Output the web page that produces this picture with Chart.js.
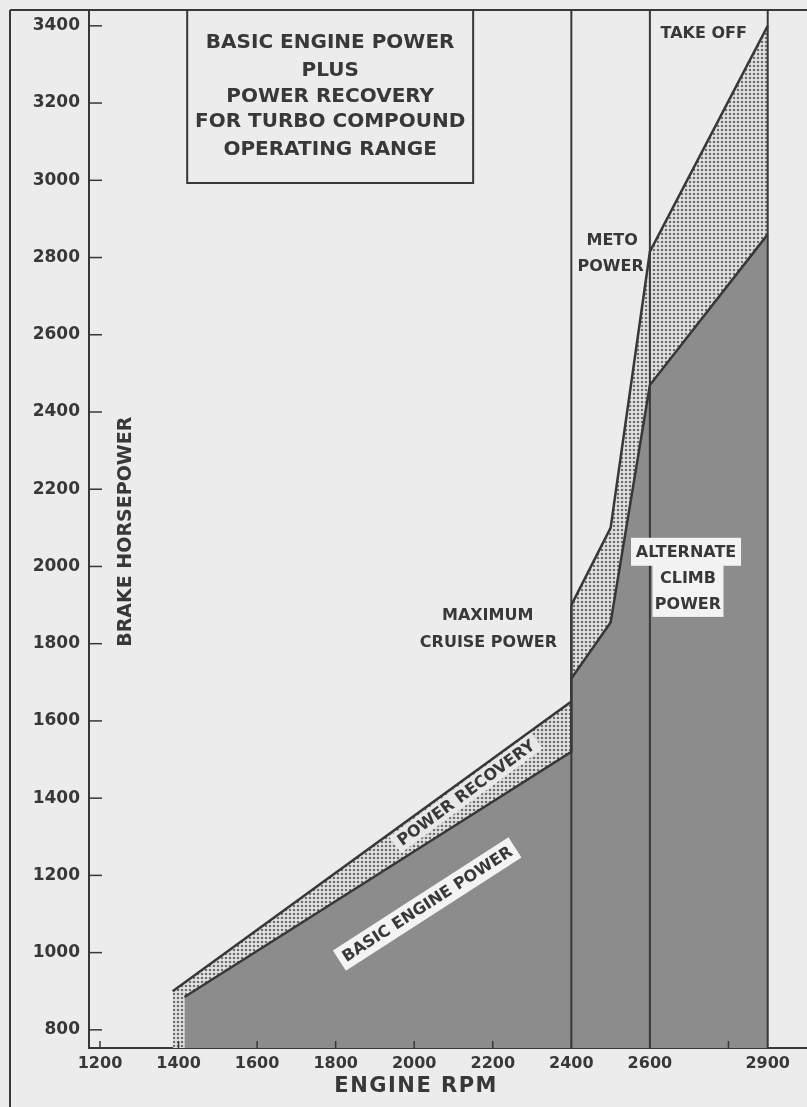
<!DOCTYPE html>
<html>
<head>
<meta charset="utf-8">
<script src="https://cdn.jsdelivr.net/npm/chart.js@4.4.1/dist/chart.umd.min.js"></script>
<style>
    html, body { margin: 0; padding: 0; background: #ececec; }
    #wrap { width: 807px; height: 1107px; position: relative; }
</style>
</head>
<body>
<div id="wrap"><canvas id="powerChart"></canvas></div>
<script>
// Values (rpm / brake horsepower)
const totalRpm = [1385, 2400, 2400, 2500, 2600, 2900];
const totalHp  = [900, 1650, 1900, 2100, 2815, 3400];
const basicRpm = [1415, 2400, 2400, 2500, 2600, 2900];
const basicHp  = [885, 1520, 1710, 1855, 2470, 2860];

// Operating range boundaries
const rangeLines = [2400, 2600, 2900];

// Axis ticks
const yTicks  = [800, 1000, 1200, 1400, 1600, 1800, 2000, 2200, 2400, 2600, 2800, 3000, 3200, 3400];
const xLabels = [1200, 1400, 1600, 1800, 2000, 2200, 2400, 2600, 2900];
const xMarks  = [1200, 1400, 1600, 1800, 2000, 2200, 2400, 2600, 2800];

const titleLines = ['BASIC ENGINE POWER', 'PLUS', 'POWER RECOVERY', 'FOR TURBO COMPOUND', 'OPERATING RANGE'];

const ink = '#383838';
const font = size => 'bold ' + size + 'px "DejaVu Sans"';

// Text notes placed in data coordinates
const notes = [
    { text: 'TAKE OFF', x: 2737, y: 3382, size: 16 },
    { text: 'METO', x: 2504, y: 2846, size: 16 },
    { text: 'POWER', x: 2500, y: 2778, size: 16 },
    { text: 'MAXIMUM', x: 2187, y: 1875, size: 16 },
    { text: 'CRUISE POWER', x: 2189, y: 1805, size: 16 },
    { text: 'ALTERNATE', x: 2692, y: 2038, size: 16, box: '#f3f3f3', w: 110, h: 28 },
    { text: 'CLIMB', x: 2697, y: 1970, size: 16, box: '#f3f3f3', w: 71, h: 26 },
    { text: 'POWER', x: 2697, y: 1903, size: 16, box: '#f3f3f3', w: 71, h: 26 },
    { text: 'POWER RECOVERY', x: 2132, y: 1414, size: 16, angle: -36.4, box: '#e8e8e8', h: 20 },
    { text: 'BASIC ENGINE POWER', x: 2033, y: 1126, size: 16, angle: -32.8, box: '#f3f3f3', h: 24 }
];

// Stipple pattern for the power recovery band
function makeDots() {
    let c = document.createElement('canvas');
    c.width = 4;
    c.height = 4;
    let g = c.getContext('2d');
    g.fillStyle = '#e4e4e4';
    g.fillRect(0, 0, 4, 4);
    g.fillStyle = '#6f6f6f';
    g.beginPath();
    g.arc(2, 2, 1.3, 0, Math.PI * 2);
    g.fill();
    return g.createPattern(c, 'repeat');
}

function drawNote(ctx, n, xs, ys) {
    ctx.save();
    ctx.translate(xs.getPixelForValue(n.x), ys.getPixelForValue(n.y));
    if (n.angle) ctx.rotate(n.angle * Math.PI / 180);
    ctx.font = font(n.size);
    ctx.textAlign = 'center';
    ctx.textBaseline = 'middle';
    if (n.box) {
        let w = n.w || ctx.measureText(n.text).width + 10;
        let h = n.h || n.size + 10;
        ctx.fillStyle = n.box;
        ctx.fillRect(-w / 2, -h / 2, w, h);
    }
    ctx.fillStyle = ink;
    ctx.fillText(n.text, 0, 1);
    ctx.restore();
}

function line(ctx, x1, y1, x2, y2) {
    ctx.beginPath();
    ctx.moveTo(x1, y1);
    ctx.lineTo(x2, y2);
    ctx.stroke();
}

const decorations = {
    id: 'decorations',
    afterDatasetsDraw(chart) {
        let ctx = chart.ctx;
        let a = chart.chartArea;
        let xs = chart.scales.x, ys = chart.scales.y;
        ctx.save();
        ctx.strokeStyle = ink;

        // range boundaries
        ctx.lineWidth = 2;
        rangeLines.forEach(v => {
            let px = xs.getPixelForValue(v);
            line(ctx, px, a.top, px, a.bottom);
        });

        // tick marks pointing into the plot
        ctx.lineWidth = 1.5;
        yTicks.forEach(v => {
            let py = ys.getPixelForValue(v);
            line(ctx, a.left, py, a.left + 13, py);
        });
        xMarks.forEach(v => {
            let px = xs.getPixelForValue(v);
            line(ctx, px, a.bottom, px, a.bottom - 7);
        });

        // outer frame
        ctx.lineWidth = 2;
        line(ctx, ys.left, a.top, chart.width, a.top);
        line(ctx, ys.left, a.top, ys.left, chart.height);

        // title box
        let bx1 = xs.getPixelForValue(1422), bx2 = xs.getPixelForValue(2150);
        let by2 = ys.getPixelForValue(2993);
        ctx.strokeRect(bx1, a.top, bx2 - bx1, by2 - a.top);
        ctx.fillStyle = ink;
        ctx.font = font(20);
        ctx.textAlign = 'center';
        ctx.textBaseline = 'middle';
        let titleY = [3356, 3283, 3216, 3151, 3079];
        titleLines.forEach((t, i) => {
            ctx.fillText(t, xs.getPixelForValue(1786), ys.getPixelForValue(titleY[i]));
        });

        notes.forEach(n => drawNote(ctx, n, xs, ys));

        // axis titles
        ctx.fillStyle = ink;
        ctx.font = font(21);
        ctx.letterSpacing = '1.5px';
        ctx.fillText('ENGINE RPM', xs.getPixelForValue(2005), 1087);
        ctx.letterSpacing = '0px';
        ctx.save();
        ctx.translate(xs.getPixelForValue(1266), ys.getPixelForValue(2090));
        ctx.rotate(-Math.PI / 2);
        ctx.font = font(19);
        ctx.fillText('BRAKE HORSEPOWER', 0, 0);
        ctx.restore();

        ctx.restore();
    }
};

document.addEventListener('DOMContentLoaded', function() {
    let toPoints = (xs, ys) => xs.map((v, i) => ({ x: v, y: ys[i] }));

    new Chart(document.getElementById('powerChart').getContext('2d'), {
        type: 'line',
        data: {
            datasets: [{
                label: 'Basic engine power',
                data: toPoints(basicRpm, basicHp),
                borderColor: ink,
                borderWidth: 2.5,
                backgroundColor: '#8c8c8c',
                fill: 'start',
                pointRadius: 0,
                tension: 0
            }, {
                label: 'Power recovery',
                data: toPoints(totalRpm, totalHp),
                borderColor: ink,
                borderWidth: 2.5,
                backgroundColor: makeDots(),
                fill: 'start',
                pointRadius: 0,
                tension: 0
            }]
        },
        options: {
            responsive: true,
            maintainAspectRatio: false,
            animation: false,
            layout: { padding: { left: 10, top: 10, right: 0, bottom: 0 } },
            plugins: {
                legend: { display: false },
                tooltip: { enabled: false }
            },
            scales: {
                x: {
                    type: 'linear',
                    min: 1172,
                    max: 3000,
                    grid: { display: false, drawTicks: false },
                    border: { display: true, color: ink, width: 2 },
                    afterBuildTicks: s => { s.ticks = xLabels.map(v => ({ value: v })); },
                    afterFit: s => { s.height = 59; s.paddingLeft = 0; s.paddingRight = 0; },
                    ticks: {
                        autoSkip: false,
                        maxRotation: 0,
                        padding: 6,
                        color: ink,
                        callback: v => String(v),
                        font: { family: 'DejaVu Sans', weight: 'bold', size: 16 }
                    }
                },
                y: {
                    min: 753,
                    max: 3441,
                    grid: { display: false, drawTicks: false },
                    border: { display: true, color: ink, width: 2 },
                    afterBuildTicks: s => { s.ticks = yTicks.map(v => ({ value: v })); },
                    afterFit: s => { s.width = 79; s.paddingTop = 0; s.paddingBottom = 0; },
                    ticks: {
                        padding: 9,
                        color: ink,
                        callback: v => String(v),
                        font: { family: 'DejaVu Sans', weight: 'bold', size: 17 }
                    }
                }
            }
        },
        plugins: [decorations]
    });
});
</script>
</body>
</html>
